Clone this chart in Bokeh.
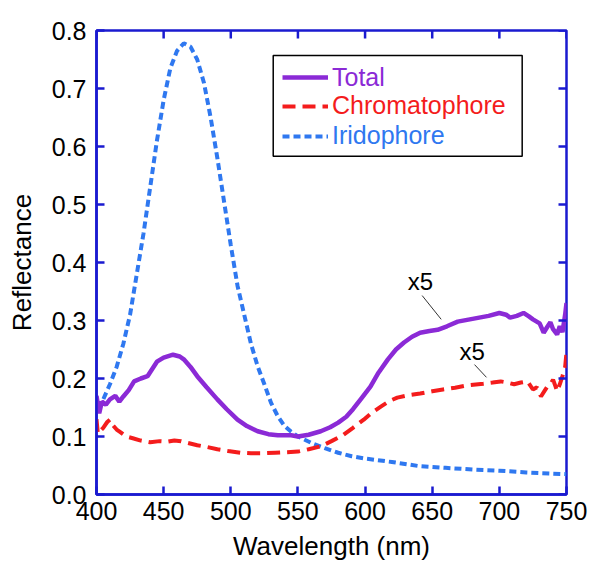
from bokeh.plotting import figure
from bokeh.models import (FixedTicker, PrintfTickFormatter, Legend,
                          LegendItem, BoxAnnotation, Label)
from bokeh.embed import file_html
from bokeh.resources import INLINE

# ---------------- data ----------------
total_wl = [400, 402, 404, 407, 410, 414, 417, 420, 424, 428, 433, 438, 445, 450,
            457, 462, 465, 470, 475, 482, 490, 497, 505, 512, 520, 528, 535, 545,
            550, 558, 567, 574, 580, 586, 591, 597, 604, 610, 617, 623, 629, 635,
            641, 648, 654, 661, 669, 678, 685, 692, 700, 705, 708, 713, 718, 722,
            725, 730, 733, 736, 738, 740, 743, 745, 747, 749, 750]
total_r = [0.17, 0.14, 0.16, 0.155, 0.164, 0.17, 0.16, 0.169, 0.18, 0.195, 0.2,
           0.204, 0.229, 0.236, 0.241, 0.238, 0.233, 0.22, 0.204, 0.185, 0.164,
           0.147, 0.129, 0.118, 0.109, 0.104, 0.102, 0.102, 0.10, 0.103, 0.109,
           0.116, 0.124, 0.134, 0.147, 0.165, 0.186, 0.21, 0.233, 0.25, 0.262,
           0.272, 0.279, 0.282, 0.284, 0.29, 0.298, 0.302, 0.305, 0.308, 0.313,
           0.31, 0.305, 0.308, 0.313, 0.307, 0.302, 0.295, 0.279, 0.29, 0.297,
           0.285, 0.276, 0.29, 0.28, 0.31, 0.33]

chrom_wl = [400, 401, 403, 405, 408, 410, 412, 415, 418, 422, 427, 433, 440, 447,
            453, 458, 463, 468, 475, 482, 490, 498, 507, 515, 524, 533, 542, 550,
            558, 567, 575, 584, 591, 599, 605, 612, 618, 624, 632, 641, 650, 658,
            667, 676, 688, 695, 701, 706, 711, 716, 721, 725, 728, 731, 734, 736,
            738, 740, 742, 743, 745, 747, 749, 750]
chrom_r = [0.13, 0.105, 0.11, 0.115, 0.125, 0.129, 0.12, 0.112, 0.107, 0.1, 0.097,
           0.093, 0.09, 0.092, 0.091, 0.093, 0.092, 0.089, 0.085, 0.082, 0.078,
           0.075, 0.072, 0.071, 0.071, 0.072, 0.073, 0.074, 0.078, 0.083, 0.092,
           0.103, 0.115, 0.129, 0.141, 0.152, 0.161, 0.167, 0.171, 0.174, 0.178,
           0.181, 0.184, 0.188, 0.191, 0.193, 0.195, 0.193, 0.19, 0.193, 0.195,
           0.181, 0.185, 0.169, 0.18, 0.187, 0.19, 0.198, 0.185, 0.178, 0.19,
           0.204, 0.22, 0.245]

irid_wl = [400, 405, 410, 415, 420, 425, 430, 435, 440, 445, 450, 455, 460, 465,
           470, 475, 480, 485, 490, 495, 500, 505, 510, 515, 520, 525, 530, 535,
           540, 545, 550, 560, 570, 580, 590, 600, 620, 640, 660, 680, 700, 720, 750]
irid_r = [0.15, 0.164, 0.19, 0.22, 0.26, 0.31, 0.38, 0.45, 0.53, 0.61, 0.68, 0.735,
          0.765, 0.778, 0.772, 0.75, 0.71, 0.65, 0.58, 0.505, 0.43, 0.36, 0.31,
          0.26, 0.221, 0.19, 0.158, 0.135, 0.118, 0.108, 0.10, 0.089, 0.08, 0.072,
          0.066, 0.062, 0.056, 0.049, 0.046, 0.043, 0.041, 0.038, 0.035]

series_names = ["Total", "Chromatophore", "Iridophore"]
x_ticks = [400, 450, 500, 550, 600, 650, 700, 750]
y_ticks = [0.0, 0.1, 0.2, 0.3, 0.4, 0.5, 0.6, 0.7, 0.8]
annot_text = "x5"

# ---------------- styles ----------------
FONT = "Liberation Sans"
SPINE = "#1a1ad0"
C_TOTAL = "#8b2ad6"
C_CHROM = "#f41c1c"
C_IRID = "#2f78f0"
X0, X1, Y0, Y1 = 400, 750, 0.0, 0.8
FRAME_W, FRAME_H, TICK_PX = 470, 465, 8

p = figure(width=590, height=563, x_range=(X0, X1), y_range=(Y0, Y1),
           output_backend="svg", toolbar_location=None,
           min_border_left=96, min_border_right=24, min_border_top=30,
           min_border_bottom=68)
p.background_fill_color = "white"
p.border_fill_color = "white"
p.grid.visible = False
p.outline_line_color = SPINE
p.outline_line_width = 2.5

r_irid = p.line(irid_wl, irid_r, line_color=C_IRID, line_width=4, line_dash="7 4")
r_chrom = p.line(chrom_wl, chrom_r, line_color=C_CHROM, line_width=4, line_dash="13 7")
r_total = p.line(total_wl, total_r, line_color=C_TOTAL, line_width=4.5)

# inward ticks on the top and right frame edges, derived from the tick lists
dy = TICK_PX * (Y1 - Y0) / FRAME_H
dx = TICK_PX * (X1 - X0) / FRAME_W
p.segment(x0=x_ticks, y0=[Y1] * len(x_ticks), x1=x_ticks,
          y1=[Y1 - dy] * len(x_ticks), line_color=SPINE, line_width=2.5)
p.segment(x0=[X1] * len(y_ticks), y0=y_ticks, x1=[X1 - dx] * len(y_ticks),
          y1=y_ticks, line_color=SPINE, line_width=2.5)


def style_axis(ax, ticks):
    ax.ticker = FixedTicker(ticks=ticks)
    ax.axis_line_color = SPINE
    ax.axis_line_width = 2.5
    ax.major_tick_line_color = SPINE
    ax.major_tick_line_width = 2.5
    ax.major_tick_in = TICK_PX
    ax.major_tick_out = 0
    ax.minor_tick_line_color = None
    ax.major_label_text_font = FONT
    ax.major_label_text_font_size = "25px"
    ax.major_label_text_color = "black"
    ax.axis_label_text_font = FONT
    ax.axis_label_text_font_size = "26px"
    ax.axis_label_text_font_style = "normal"
    ax.axis_label_text_color = "black"


xb = p.xaxis[0]
yl = p.yaxis[0]
style_axis(xb, x_ticks)
style_axis(yl, y_ticks)
xb.major_label_standoff = 7
yl.major_label_standoff = 10
yl.formatter = PrintfTickFormatter(format="%.1f")
xb.axis_label = "Wavelength (nm)"
yl.axis_label = "Reflectance"
xb.axis_label_standoff = 8
yl.axis_label_standoff = 12

# legend box
p.add_layout(BoxAnnotation(left=531.6, right=717, top=0.757, bottom=0.583,
                           fill_alpha=0, line_color="black", line_alpha=1.0,
                           line_width=1.5))

# legends (one per entry so each label keeps its series colour)
entries = [(series_names[0], r_total, C_TOTAL, 402.5),
           (series_names[1], r_chrom, C_CHROM, 373.8),
           (series_names[2], r_irid, C_IRID, 343.8)]
for name, rend, col, yb in entries:
    lg = Legend(items=[LegendItem(label=name, renderers=[rend])],
                location=(186, yb), padding=0, margin=0, spacing=0,
                glyph_width=46, glyph_height=20, label_standoff=4,
                label_text_font=FONT, label_text_font_size="25px",
                label_text_color=col, border_line_alpha=0,
                background_fill_alpha=0, label_height=20)
    p.add_layout(lg)

# "x5" annotations with leader lines
for lx, ly in [(641.3, 0.367), (679.7, 0.247)]:
    p.add_layout(Label(x=lx, y=ly, text=annot_text, text_font=FONT,
                       text_font_size="24px", text_align="center",
                       text_baseline="middle", text_color="black"))
p.segment(x0=[642.5, 681.5], y0=[0.343, 0.224], x1=[656.7, 690.4],
          y1=[0.302, 0.202], line_color="#333333", line_width=1)

open("out.html", "w").write(file_html(p, INLINE))
